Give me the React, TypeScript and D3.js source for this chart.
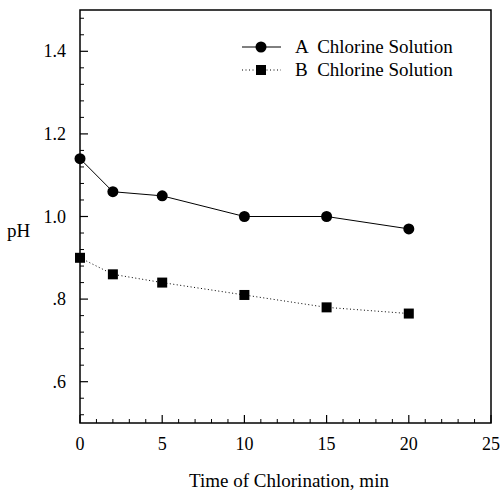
import React from "react";
import * as d3 from "d3";

const times = [0, 2, 5, 10, 15, 20];
const seriesA = [1.14, 1.06, 1.05, 1.0, 1.0, 0.97];
const seriesB = [0.9, 0.86, 0.84, 0.81, 0.78, 0.765];
const seriesNames = ["A  Chlorine Solution", "B  Chlorine Solution"];
const xTicks = [0, 5, 10, 15, 20, 25];
const yTicks = [0.6, 0.8, 1.0, 1.2, 1.4];
const yTickLabels = [".6", ".8", "1.0", "1.2", "1.4"];
const xTitle = "Time of Chlorination, min";
const yTitle = "pH";

const W = 501;
const H = 492;
const FONT = "Liberation Serif, serif";

export default function App() {
  const x = d3.scaleLinear().domain([0, 25]).range([80, 491]);
  const y = d3.scaleLinear().domain([0.5, 1.5]).range([423, 10]);

  const xMinor = d3.range(0, 25.001, 1).filter((v) => v % 5 !== 0);
  const yMinor = d3.range(0.52, 1.5, 0.04).filter(
    (v) => Math.abs(Math.round(v / 0.2) * 0.2 - v) > 0.005
  );
  const line = d3
    .line<number>()
    .x((_, i) => x(times[i]))
    .y((d) => y(d));

  const [x0, x1] = x.range();
  const [yb, yt] = y.range();

  return (
    <svg
      width={W}
      height={H}
      style={{ position: "absolute", left: 0, top: 0, background: "#fff", fontFamily: FONT }}
    >
      <rect x={0} y={0} width={W} height={H} fill="#fff" />
      {/* frame */}
      <rect
        x={x0}
        y={yt}
        width={x1 - x0}
        height={yb - yt}
        fill="none"
        stroke="#000"
        strokeWidth={1.5}
      />
      {/* x ticks */}
      {xTicks.map((t) => (
        <g key={"xt" + t}>
          <line x1={x(t)} x2={x(t)} y1={yb} y2={yb - 8} stroke="#000" strokeWidth={1.2} />
          <text x={x(t)} y={450} fontSize={18} textAnchor="middle" fill="#000">
            {t}
          </text>
        </g>
      ))}
      {xMinor.map((t) => (
        <line key={"xm" + t} x1={x(t)} x2={x(t)} y1={yb} y2={yb - 4} stroke="#000" strokeWidth={1} />
      ))}
      {/* y ticks */}
      {yTicks.map((t, i) => (
        <g key={"yt" + t}>
          <line x1={x0} x2={x0 + 8} y1={y(t)} y2={y(t)} stroke="#000" strokeWidth={1.2} />
          <text x={66} y={y(t) + 6} fontSize={18} textAnchor="end" fill="#000">
            {yTickLabels[i]}
          </text>
        </g>
      ))}
      {yMinor.map((t) => (
        <line key={"ym" + t.toFixed(2)} x1={x0} x2={x0 + 4} y1={y(t)} y2={y(t)} stroke="#000" strokeWidth={1} />
      ))}
      {/* titles */}
      <text x={289} y={487} fontSize={19} textAnchor="middle" fill="#000">
        {xTitle}
      </text>
      <text x={7} y={237} fontSize={19} fill="#000">
        {yTitle}
      </text>
      {/* series A */}
      <path d={line(seriesA) || ""} fill="none" stroke="#000" strokeWidth={1} />
      {seriesA.map((v, i) => (
        <circle key={"a" + i} cx={x(times[i])} cy={y(v)} r={5.5} fill="#000" />
      ))}
      {/* series B */}
      <path
        d={line(seriesB) || ""}
        fill="none"
        stroke="#000"
        strokeWidth={1}
        strokeDasharray="1,2.5"
      />
      {seriesB.map((v, i) => (
        <rect key={"b" + i} x={x(times[i]) - 5} y={y(v) - 5} width={10} height={10} fill="#000" />
      ))}
      {/* legend */}
      <line x1={242} x2={281} y1={47} y2={47} stroke="#000" strokeWidth={1} />
      <circle cx={261} cy={47} r={5.5} fill="#000" />
      <text x={295} y={53} fontSize={19} fill="#000" style={{ whiteSpace: "pre" }}>
        {seriesNames[0]}
      </text>
      <line x1={242} x2={281} y1={70} y2={70} stroke="#000" strokeWidth={1} strokeDasharray="1,2.5" />
      <rect x={256} y={65} width={10} height={10} fill="#000" />
      <text x={295} y={76} fontSize={19} fill="#000" style={{ whiteSpace: "pre" }}>
        {seriesNames[1]}
      </text>
    </svg>
  );
}
